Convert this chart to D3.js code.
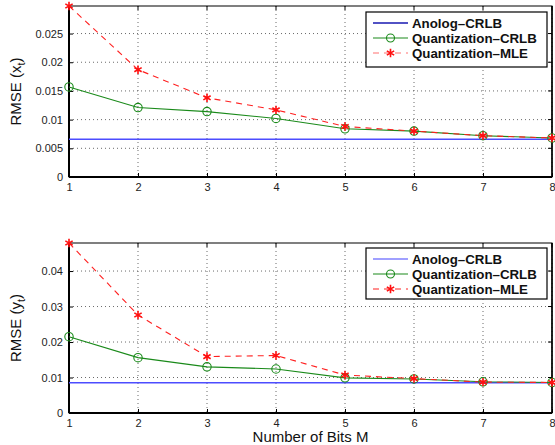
<!DOCTYPE html>
<html><head><meta charset="utf-8">
<script src="https://cdn.jsdelivr.net/npm/d3@7"></script>
<style>body{margin:0;background:#fff}svg{display:block}text{font-family:"Liberation Sans",Arial,sans-serif}</style>
</head><body><svg id="c" width="555" height="445"></svg>
<script>
const bits = [1,2,3,4,5,6,7,8];
const xAnalog = [0.0066,0.0066,0.0066,0.0066,0.0066,0.0066,0.0066,0.0066];
const xQCRLB = [0.0157,0.0121,0.0114,0.0102,0.0084,0.0080,0.0072,0.0068];
const xMLE   = [0.0298,0.0187,0.0138,0.0117,0.0088,0.0080,0.0072,0.0068];
const yAnalog = [0.0085,0.0085,0.0085,0.0085,0.0085,0.0085,0.0085,0.0085];
const yQCRLB = [0.0215,0.0156,0.0130,0.0124,0.0099,0.0096,0.0088,0.0086];
const yMLE   = [0.0479,0.0276,0.0159,0.0162,0.0107,0.0097,0.0087,0.0086];
const xTicks = [0,0.005,0.01,0.015,0.02,0.025];
const yTicks = [0,0.01,0.02,0.03,0.04];
const legendNames = ["Anolog\u2013CRLB","Quantization\u2013CRLB","Quantization\u2013MLE"];

const svg = d3.select("#c");
const L = 69, R = 552;
const x = d3.scaleLinear().domain([1,8]).range([L,R]);

function panel(cfg){
  const g = svg.append("g");
  const y = d3.scaleLinear().domain([0, d3.max(cfg.mle)]).range([cfg.bottom, cfg.top]);
  g.selectAll(".gx").data(bits).enter().append("line")
    .attr("x1",d=>x(d)).attr("x2",d=>x(d)).attr("y1",cfg.top).attr("y2",cfg.bottom)
    .attr("stroke","#444").attr("stroke-width",0.8).attr("stroke-dasharray","1,3");
  g.selectAll(".gy").data(cfg.ticks).enter().append("line")
    .attr("x1",L).attr("x2",R).attr("y1",d=>y(d)).attr("y2",d=>y(d))
    .attr("stroke","#444").attr("stroke-width",0.8).attr("stroke-dasharray","1,3");
  const ax = g.append("g").attr("transform",`translate(0,${cfg.bottom})`)
    .call(d3.axisBottom(x).tickValues(bits).tickSizeInner(-4).tickSizeOuter(0).tickPadding(6).tickFormat(d3.format("d")));
  const ay = g.append("g").attr("transform",`translate(${L},0)`)
    .call(d3.axisLeft(y).tickValues(cfg.ticks).tickSizeInner(-4).tickSizeOuter(0).tickPadding(6).tickFormat(d=>d===0?"0":String(+d.toFixed(3))));
  [ax,ay].forEach(a=>{a.select(".domain").remove();a.selectAll("text").attr("font-size",11).attr("fill","#222");a.selectAll("line").attr("stroke","#000");});
  g.selectAll(".rt").data(cfg.ticks).enter().append("line")
    .attr("x1",R).attr("x2",R-4).attr("y1",d=>y(d)).attr("y2",d=>y(d)).attr("stroke","#000");
  g.selectAll(".tt").data(bits).enter().append("line")
    .attr("x1",d=>x(d)).attr("x2",d=>x(d)).attr("y1",cfg.top).attr("y2",cfg.top+4).attr("stroke","#000");
  g.append("rect").attr("x",L).attr("y",cfg.top).attr("width",R-L).attr("height",cfg.bottom-cfg.top)
    .attr("fill","none").attr("stroke","#000").attr("stroke-width",1);
  g.append("line").attr("x1",L).attr("x2",L).attr("y1",cfg.top).attr("y2",cfg.bottom).attr("stroke","#000").attr("stroke-width",2);
  g.append("line").attr("x1",L).attr("x2",R).attr("y1",cfg.bottom).attr("y2",cfg.bottom).attr("stroke","#000").attr("stroke-width",2);
  g.append("line").attr("x1",R).attr("x2",R).attr("y1",cfg.top).attr("y2",cfg.bottom).attr("stroke","#000").attr("stroke-width",1.5);

  const line = d3.line().x((d,i)=>x(bits[i])).y(d=>y(d));
  g.append("path").attr("d",line(cfg.analog)).attr("fill","none").attr("stroke","#4d4dff").attr("stroke-width",1.5);
  g.append("path").attr("d",line(cfg.q)).attr("fill","none").attr("stroke","#1a8a1a").attr("stroke-width",1.1);
  g.append("path").attr("d",line(cfg.mle)).attr("fill","none").attr("stroke","#ff2020").attr("stroke-width",1.1).attr("stroke-dasharray","6,5");
  g.selectAll(".qc").data(cfg.q).enter().append("circle")
    .attr("cx",(d,i)=>x(bits[i])).attr("cy",d=>y(d)).attr("r",4.2)
    .attr("fill","none").attr("stroke","#1a8a1a").attr("stroke-width",1.1);
  const star = d3.symbol().type(d3.symbolAsterisk).size(50);
  g.selectAll(".ms").data(cfg.mle).enter().append("path")
    .attr("d",star).attr("transform",(d,i)=>`translate(${x(bits[i])},${y(d)})`)
    .attr("fill","none").attr("stroke","#ff1010").attr("stroke-width",1.6);

  const yl = g.append("text").attr("transform",`translate(${cfg.ylx},${(cfg.top+cfg.bottom)/2}) rotate(-90)`)
    .attr("text-anchor","middle").attr("font-size",15).attr("fill","#111");
  yl.append("tspan").text("RMSE ("+cfg.v);
  yl.append("tspan").attr("font-size",11).attr("dy",4).text("t");
  yl.append("tspan").attr("dy",-4).text(")");

  const lg = g.append("g");
  lg.append("rect").attr("x",366).attr("y",cfg.lt).attr("width",181).attr("height",cfg.lh)
    .attr("fill","#fff").attr("stroke","#000").attr("stroke-width",1.2);
  const cols = cfg.legCols;
  legendNames.forEach((n,i)=>{
    const yy = cfg.lt + 11 + i*15;
    const ln = lg.append("line").attr("x1",373).attr("x2",408).attr("y1",yy).attr("y2",yy)
      .attr("stroke",cols[i]).attr("stroke-width",i===0?1.4:1.1);
    if(i===2) ln.attr("stroke-dasharray","6,5");
    if(i===1) lg.append("circle").attr("cx",390.5).attr("cy",yy).attr("r",4).attr("fill","none").attr("stroke",cols[1]).attr("stroke-width",1.1);
    if(i===2) lg.append("path").attr("d",star).attr("transform",`translate(390.5,${yy})`).attr("fill","none").attr("stroke","#ff1010").attr("stroke-width",1.6);
    lg.append("text").attr("x",412).attr("y",yy+4.5).attr("font-size",13.3).attr("font-weight","bold").attr("fill","#111").text(n);
  });
}

panel({top:6,bottom:177,analog:xAnalog,q:xQCRLB,mle:xMLE,ticks:xTicks,v:"x",ylx:21,lt:12,lh:55,
  legCols:["#1818b0","#1a8a1a","#ff7070"]});
panel({top:243,bottom:413,analog:yAnalog,q:yQCRLB,mle:yMLE,ticks:yTicks,v:"y",ylx:21,lt:248,lh:51,
  legCols:["#8080ff","#1a8a1a","#ff2020"]});

svg.append("text").attr("x",(L+R)/2).attr("y",442).attr("text-anchor","middle")
  .attr("font-size",15).attr("fill","#111").text("Number of Bits M");
</script></body></html>
